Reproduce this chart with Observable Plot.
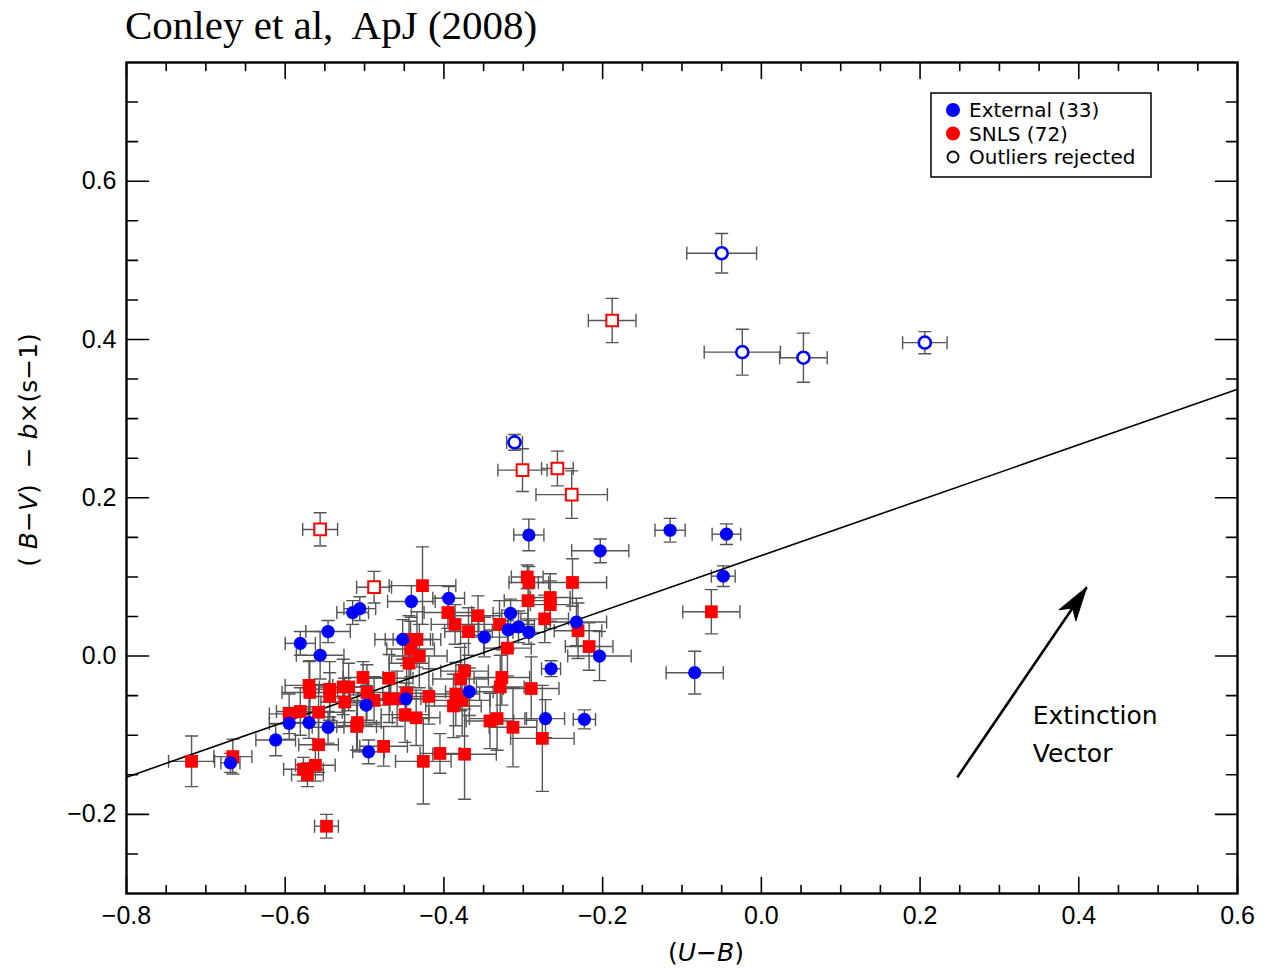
<!DOCTYPE html>
<html>
<head>
<meta charset="utf-8">
<script src="https://cdn.jsdelivr.net/npm/d3@7"></script>
<script src="https://cdn.jsdelivr.net/npm/@observablehq/plot@0.6"></script>
<style>
  html, body { margin: 0; padding: 0; background: #fff; }
  #wrap { width: 1275px; height: 971px; position: relative; overflow: hidden; }
  #title { display: block; }
</style>
</head>
<body>
<div id="wrap">
  <svg id="title" width="1275" height="60">
    <text x="125" y="39" font-family="'Liberation Serif','Times New Roman',serif" font-size="41" fill="#000" xml:space="preserve">Conley et al,  ApJ (2008)</text>
  </svg>
  <div id="chart"></div>
</div>
<script>
// ---- Data: [U−B, (B−V) − b×(s−1), error in x, error in y] ----
const external = [
  [-0.293, 0.153, 0.019, 0.020], [-0.115, 0.159, 0.019, 0.015], [-0.044, 0.154, 0.018, 0.013],
  [-0.203, 0.133, 0.036, 0.015], [-0.048, 0.101, 0.015, 0.013], [-0.233, 0.043, 0.038, 0.030],
  [-0.204, 0.000, 0.040, 0.031], [-0.265, -0.016, 0.012, 0.010], [-0.084, -0.021, 0.036, 0.027],
  [-0.272, -0.079, 0.024, 0.024], [-0.223, -0.080, 0.014, 0.012], [-0.316, 0.054, 0.022, 0.018],
  [-0.319, 0.033, 0.030, 0.025], [-0.306, 0.037, 0.020, 0.020], [-0.293, 0.030, 0.020, 0.015],
  [-0.349, 0.024, 0.030, 0.025], [-0.394, 0.073, 0.020, 0.015], [-0.441, 0.069, 0.030, 0.020],
  [-0.452, 0.021, 0.035, 0.025], [-0.368, -0.045, 0.030, 0.030], [-0.448, -0.054, 0.025, 0.020],
  [-0.506, 0.060, 0.020, 0.015], [-0.515, 0.055, 0.020, 0.015], [-0.546, 0.031, 0.028, 0.014],
  [-0.581, 0.016, 0.019, 0.015], [-0.556, 0.001, 0.030, 0.030], [-0.498, -0.062, 0.030, 0.025],
  [-0.570, -0.084, 0.030, 0.020], [-0.595, -0.085, 0.025, 0.020], [-0.546, -0.090, 0.020, 0.020],
  [-0.612, -0.106, 0.025, 0.020], [-0.495, -0.121, 0.020, 0.015], [-0.669, -0.135, 0.012, 0.012]
];
const externalRejected = [
  [-0.050, 0.509, 0.044, 0.025], [-0.024, 0.384, 0.048, 0.029], [0.053, 0.377, 0.030, 0.031],
  [0.206, 0.396, 0.028, 0.014], [-0.311, 0.270, 0.010, 0.010]
];
const snls = [
  [-0.718, -0.133, 0.029, 0.032], [-0.666, -0.127, 0.024, 0.022], [-0.570, -0.037, 0.030, 0.030],
  [-0.569, -0.046, 0.035, 0.040], [-0.544, -0.042, 0.030, 0.035], [-0.544, -0.051, 0.025, 0.030],
  [-0.527, -0.039, 0.030, 0.035], [-0.520, -0.039, 0.025, 0.030], [-0.502, -0.027, 0.025, 0.020],
  [-0.469, -0.028, 0.030, 0.030], [-0.497, -0.046, 0.030, 0.035], [-0.488, -0.056, 0.030, 0.030],
  [-0.469, -0.054, 0.025, 0.030], [-0.459, -0.054, 0.030, 0.035], [-0.525, -0.058, 0.030, 0.030],
  [-0.595, -0.073, 0.025, 0.025], [-0.581, -0.070, 0.030, 0.030], [-0.558, -0.071, 0.030, 0.035],
  [-0.509, -0.084, 0.030, 0.035], [-0.510, -0.089, 0.025, 0.030], [-0.558, -0.112, 0.025, 0.035],
  [-0.476, -0.114, 0.030, 0.025], [-0.577, -0.143, 0.025, 0.015], [-0.572, -0.150, 0.020, 0.015],
  [-0.562, -0.138, 0.025, 0.020], [-0.548, -0.215, 0.015, 0.015], [-0.449, -0.074, 0.030, 0.035],
  [-0.427, 0.089, 0.042, 0.049], [-0.395, 0.055, 0.030, 0.020], [-0.386, 0.040, 0.030, 0.025],
  [-0.369, 0.031, 0.030, 0.030], [-0.357, 0.051, 0.030, 0.025], [-0.330, 0.040, 0.035, 0.030],
  [-0.295, 0.100, 0.020, 0.015], [-0.293, 0.093, 0.025, 0.020], [-0.294, 0.070, 0.030, 0.030],
  [-0.320, 0.010, 0.030, 0.035], [-0.444, 0.021, 0.030, 0.030], [-0.434, 0.021, 0.030, 0.035],
  [-0.442, 0.009, 0.030, 0.035], [-0.431, 0.000, 0.035, 0.040], [-0.444, -0.009, 0.025, 0.030],
  [-0.374, -0.019, 0.030, 0.035], [-0.379, -0.029, 0.035, 0.040], [-0.327, -0.027, 0.035, 0.035],
  [-0.329, -0.039, 0.030, 0.040], [-0.290, -0.041, 0.035, 0.040], [-0.447, -0.047, 0.030, 0.035],
  [-0.419, -0.051, 0.030, 0.035], [-0.385, -0.048, 0.030, 0.040], [-0.377, -0.056, 0.035, 0.045],
  [-0.388, -0.063, 0.035, 0.040], [-0.435, -0.078, 0.030, 0.035], [-0.342, -0.082, 0.030, 0.035],
  [-0.333, -0.079, 0.035, 0.040], [-0.313, -0.090, 0.030, 0.050], [-0.276, -0.104, 0.040, 0.067],
  [-0.405, -0.123, 0.025, 0.025], [-0.374, -0.124, 0.040, 0.057], [-0.426, -0.133, 0.035, 0.054],
  [-0.266, 0.074, 0.025, 0.030], [-0.266, 0.065, 0.025, 0.030], [-0.273, 0.047, 0.030, 0.030],
  [-0.238, 0.093, 0.043, 0.030], [-0.231, 0.032, 0.030, 0.035], [-0.217, 0.012, 0.030, 0.030],
  [-0.063, 0.056, 0.036, 0.028]
];
const snlsRejected = [
  [-0.188, 0.424, 0.030, 0.028], [-0.301, 0.235, 0.031, 0.027], [-0.257, 0.237, 0.020, 0.022],
  [-0.239, 0.204, 0.045, 0.030], [-0.556, 0.160, 0.022, 0.021], [-0.488, 0.087, 0.022, 0.020]
];
const xMajorTicks = [-0.8, -0.6, -0.4, -0.2, 0.0, 0.2, 0.4, 0.6];
const yMajorTicks = [-0.2, 0.0, 0.2, 0.4, 0.6];
const xDomain = [-0.8, 0.6];
const yDomain = [-0.3, 0.75];
const fit = { intercept: 0.127, slope: 0.35 };
const extinctionVector = [{ x1: 0.247, y1: -0.153, x2: 0.410, y2: 0.087 }];
const extinctionLabel = [
  { x: 0.342, y: -0.076, text: "Extinction" },
  { x: 0.342, y: -0.124, text: "Vector" }
];
const legendItems = [
  { label: "External (33)", color: "#0000ff", open: false },
  { label: "SNLS (72)", color: "#ff0000", open: false },
  { label: "Outliers rejected", color: "#000000", open: true }
];

// ---- Build ----
const row = (group) => ([x, y, ex, ey]) => ({ x, y, ex, ey, group });
const all = [
  ...external.map(row("ext")), ...snls.map(row("snls")),
  ...externalRejected.map(row("extR")), ...snlsRejected.map(row("snlsR"))
];

const W = 1275, H = 911, mL = 126, mR = 38, mT = 2, mB = 78;
const kx = (W - mL - mR) / (xDomain[1] - xDomain[0]);
const ky = (H - mT - mB) / (yDomain[1] - yDomain[0]);

const step = 0.05;
const xMinor = d3.range(Math.round((xDomain[1] - xDomain[0]) / step) + 1)
  .map(i => +(xDomain[0] + i * step).toFixed(2))
  .filter(v => !xMajorTicks.some(t => Math.abs(t - v) < 1e-6));
const yMinor = d3.range(Math.round((yDomain[1] - yDomain[0]) / step) + 1)
  .map(i => +(yDomain[0] + i * step).toFixed(2))
  .filter(v => !yMajorTicks.some(t => Math.abs(t - v) < 1e-6) && v > yDomain[0] + 1e-6 && v < yDomain[1] - 1e-6);

const lineShape = { draw(ctx, l) { ctx.moveTo(0, 0); ctx.lineTo(0, -l); } };
const headShape = { draw(ctx) { ctx.moveTo(0, 0); ctx.lineTo(-10, 34); ctx.lineTo(0, 25); ctx.lineTo(10, 34); ctx.closePath(); } };

const ev = extinctionVector[0];
const arrowAngle = Math.atan2((ev.x2 - ev.x1) * kx, (ev.y2 - ev.y1) * ky) * 180 / Math.PI;

const fitPts = xDomain.map(x => ({ x, y: fit.intercept + fit.slope * x }));

const errStroke = "#555";
const errW = 1.4;
const capLen = 12;

const tickMarks = (vals, side, len) => {
  const opts = { anchor: "start", length: len, shape: lineShape, stroke: "#000", strokeWidth: 1.6 };
  if (side === "bottom") return Plot.vector(vals, { ...opts, x: d => d, frameAnchor: "bottom", rotate: 0 });
  if (side === "top") return Plot.vector(vals, { ...opts, x: d => d, frameAnchor: "top", rotate: 180 });
  if (side === "left") return Plot.vector(vals, { ...opts, y: d => d, frameAnchor: "left", rotate: 90 });
  return Plot.vector(vals, { ...opts, y: d => d, frameAnchor: "right", rotate: -90 });
};

const fmt = d3.format(".1f");

const plot = Plot.plot({
  width: W, height: H,
  marginLeft: mL, marginRight: mR, marginTop: mT, marginBottom: mB,
  x: { domain: xDomain, label: null },
  y: { domain: yDomain, label: null },
  style: { fontFamily: "'Liberation Sans', Arial, sans-serif", fontSize: "25px", color: "#000", background: "#fff" },
  marks: [
    // error bars
    Plot.ruleY(all, { y: "y", x1: d => d.x - d.ex, x2: d => d.x + d.ex, stroke: errStroke, strokeWidth: errW }),
    Plot.ruleX(all, { x: "x", y1: d => d.y - d.ey, y2: d => d.y + d.ey, stroke: errStroke, strokeWidth: errW }),
    Plot.vector(all, { x: d => d.x - d.ex, y: "y", length: capLen, anchor: "middle", rotate: 0, shape: lineShape, stroke: errStroke, strokeWidth: errW }),
    Plot.vector(all, { x: d => d.x + d.ex, y: "y", length: capLen, anchor: "middle", rotate: 0, shape: lineShape, stroke: errStroke, strokeWidth: errW }),
    Plot.vector(all, { x: "x", y: d => d.y - d.ey, length: capLen, anchor: "middle", rotate: 90, shape: lineShape, stroke: errStroke, strokeWidth: errW }),
    Plot.vector(all, { x: "x", y: d => d.y + d.ey, length: capLen, anchor: "middle", rotate: 90, shape: lineShape, stroke: errStroke, strokeWidth: errW }),
    // fit line
    Plot.line(fitPts, { x: "x", y: "y", stroke: "#000", strokeWidth: 1.6 }),
    // points
    Plot.dot(snls.map(row("snls")), { x: "x", y: "y", symbol: "square", r: 7.2, fill: "#ff0000", stroke: "none" }),
    Plot.dot(external.map(row("ext")), { x: "x", y: "y", r: 6.6, fill: "#0000ff", stroke: "none" }),
    Plot.dot(snlsRejected.map(row("snlsR")), { x: "x", y: "y", symbol: "square", r: 6.6, fill: "#fff", stroke: "#ff0000", strokeWidth: 2 }),
    Plot.dot(externalRejected.map(row("extR")), { x: "x", y: "y", r: 6, fill: "#fff", stroke: "#0000ff", strokeWidth: 2.6 }),
    // extinction vector
    Plot.link(extinctionVector, { x1: "x1", y1: "y1", x2: "x2", y2: "y2", stroke: "#000", strokeWidth: 2.6 }),
    Plot.vector(extinctionVector, { x: "x2", y: "y2", anchor: "start", length: 34, rotate: arrowAngle, shape: headShape, fill: "#000", stroke: "#000", strokeWidth: 1 }),
    Plot.text(extinctionLabel, { x: "x", y: "y", text: "text", textAnchor: "start", fontSize: 25, fontFamily: "'DejaVu Sans', sans-serif", fill: "#000" }),
    // ticks (inward, all four sides)
    tickMarks(xMajorTicks, "bottom", 16), tickMarks(xMinor, "bottom", 8),
    tickMarks(xMajorTicks, "top", 16), tickMarks(xMinor, "top", 8),
    tickMarks(yMajorTicks, "left", 22), tickMarks(yMinor, "left", 11),
    tickMarks(yMajorTicks, "right", 22), tickMarks(yMinor, "right", 11),
    // tick labels
    Plot.axisX(xMajorTicks, { tickSize: 0, tickPadding: 13, tickFormat: fmt, label: null, fontSize: 25 }),
    Plot.axisY(yMajorTicks, { tickSize: 0, tickPadding: 10, tickFormat: fmt, label: null, fontSize: 25 }),
    Plot.frame({ stroke: "#000", strokeWidth: 2.4 })
  ]
});

document.getElementById("chart").appendChild(plot);

// ---- Axis titles with italic letters ----
const svg = d3.select(plot);
const xt = svg.append("text")
  .attr("x", 706).attr("y", 901)
  .attr("text-anchor", "middle")
  .attr("font-family", "'DejaVu Sans', sans-serif")
  .attr("font-size", 25).attr("fill", "#000");
xt.append("tspan").text("(");
xt.append("tspan").attr("font-style", "italic").text("U");
xt.append("tspan").text("−");
xt.append("tspan").attr("font-style", "italic").text("B");
xt.append("tspan").text(")");

const yt = svg.append("text")
  .attr("transform", "translate(37,390) rotate(-90)")
  .attr("text-anchor", "middle")
  .attr("font-family", "'DejaVu Sans', sans-serif")
  .attr("font-size", 25).attr("fill", "#000")
  .attr("xml:space", "preserve");
yt.append("tspan").text("( ");
yt.append("tspan").attr("font-style", "italic").text("B");
yt.append("tspan").text("−");
yt.append("tspan").attr("font-style", "italic").text("V");
yt.append("tspan").text(")  − ");
yt.append("tspan").attr("font-style", "italic").text("b");
yt.append("tspan").text("×(s−1)");

// ---- Legend box ----
const lg = svg.append("g").attr("transform", "translate(931,33)");
lg.append("rect").attr("x", 0).attr("y", 0).attr("width", 220).attr("height", 84)
  .attr("fill", "#fff").attr("stroke", "#000").attr("stroke-width", 1.5);
legendItems.forEach((d, i) => {
  const cy = 17 + i * 23.5;
  lg.append("circle").attr("cx", 22).attr("cy", cy).attr("r", d.open ? 5.5 : 7)
    .attr("fill", d.open ? "#fff" : d.color)
    .attr("stroke", d.open ? d.color : "none").attr("stroke-width", 1.8);
  lg.append("text").attr("x", 38).attr("y", cy + 7)
    .attr("text-anchor", "start")
    .attr("font-family", "'DejaVu Sans', sans-serif").attr("font-size", 20).attr("fill", "#000")
    .text(d.label);
});
</script>
</body>
</html>
